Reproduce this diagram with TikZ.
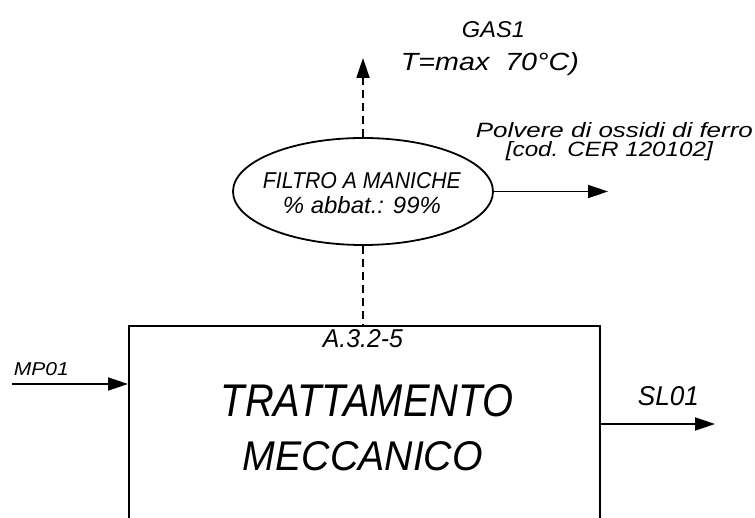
\documentclass[tikz,border=0pt]{standalone}
\usepackage{fontspec}
\setmainfont{Liberation Sans}
\usepackage{graphicx}
\usetikzlibrary{arrows.meta,shapes.geometric}
\newcommand\fitt[3]{\resizebox{#1pt}{#2pt}{\itshape #3}}
\begin{document}
\begin{tikzpicture}[x=1pt,y=-1pt,line width=1.8pt,
  txt/.style={inner sep=0pt,anchor=base west},
  flow/.style={-{Triangle[length=20pt,width=13pt]}},
  dashline/.style={dash pattern=on 8pt off 5pt}]
\useasboundingbox (0,0) rectangle (755,518);
\clip (0,0) rectangle (755,518);
\node[draw,rectangle,minimum width=471pt,minimum height=240pt,anchor=north west,inner sep=0pt] (box) at (128,325) {};
\node[draw,ellipse,minimum width=260pt,minimum height=107pt,inner sep=0pt] (filt) at (363,191.5) {};
% texts
\node[txt] (gas) at (461,38) {\fitt{63}{16}{GAS1}};
\node[txt] (temp) at (400,71) {\fitt{178}{18}{T=max\ \ 70°C)}};
\node[txt] (polv) at (475,138) {\fitt{277}{15}{Polvere di ossidi di ferro}};
\node[txt] (cer) at (505,157) {\fitt{207}{15}{[cod. CER 120102]}};
\node[txt] (f1) at (262,189) {\fitt{198}{16}{FILTRO A MANICHE}};
\node[txt] (f2) at (282,214) {\fitt{158}{17}{\% abbat.: 99\%}};
\node[txt] (code) at (322,348) {\fitt{80}{18}{A.3.2-5}};
\node[txt] (t1) at (220,417) {\fitt{292}{32}{TRATTAMENTO}};
\node[txt] (t2) at (242,470) {\fitt{240}{29}{MECCANICO}};
\node[txt] (mp) at (13,376) {\fitt{55}{13}{MP01}};
\node[txt] (sl) at (637,406) {\fitt{61}{19}{SL01}};
% connectors
\coordinate (mpstart) at (12,384);
\draw[flow] (mpstart) -- (mpstart -| box.west);
\coordinate (slend) at (715,424);
\draw[flow] (slend -| box.east) -- (slend);
\draw[dashline] (filt.south) -- (filt.south |- box.north);
\coordinate (gasend) at (363,58);
\draw[flow,dashline] (filt.north) -- (gasend);
\coordinate (dustend) at (608,191.5);
\draw[flow] (filt.east) -- (dustend);
\end{tikzpicture}
\end{document}
